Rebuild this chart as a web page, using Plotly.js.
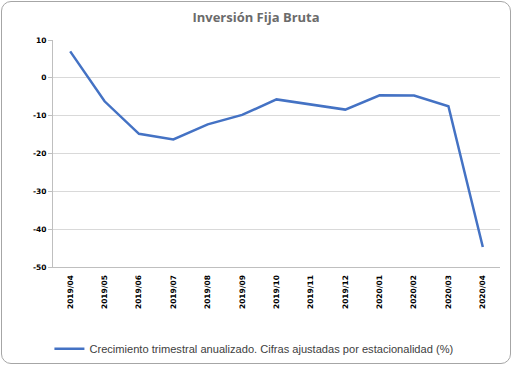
<!DOCTYPE html>
<html>
<head>
<meta charset="utf-8">
<script src="https://cdn.plot.ly/plotly-3.0.1.min.js"></script>
<style>
  html, body { margin: 0; padding: 0; background: #fff; }
  #wrap { position: relative; width: 512px; height: 365px; }
  #chart { width: 512px; height: 365px; }
  #frame { position: absolute; left: 1px; top: 1px; width: 508px; height: 361px;
           border: 1px solid #a6a6a6; border-radius: 10px; pointer-events: none; }
</style>
</head>
<body>
<div id="wrap"><div id="chart"></div><div id="frame"></div></div>
<script>
const categories = ["2019/04","2019/05","2019/06","2019/07","2019/08","2019/09","2019/10",
                    "2019/11","2019/12","2020/01","2020/02","2020/03","2020/04"];
const growth = [7.0, -6.2, -14.8, -16.3, -12.3, -9.8, -5.7, -7.1, -8.4, -4.6, -4.7, -7.5, -44.7];
const seriesName = "Crecimiento trimestral anualizado. Cifras ajustadas por estacionalidad (%)";
const yTicks = [10, 0, -10, -20, -30, -40, -50];

const trace = {
  x: categories, y: growth, type: "scatter", mode: "lines", name: seriesName,
  line: { color: "#4472C4", width: 2.5 }
};

const layout = {
  width: 512, height: 365,
  margin: { l: 53, r: 12, t: 40, b: 98, autoexpand: false },
  paper_bgcolor: "#ffffff", plot_bgcolor: "#ffffff",
  title: { text: "Inversión Fija Bruta", x: 0.5, xanchor: "center", y: 0.952, yanchor: "middle",
           font: { family: "Open Sans", size: 13, color: "#6b6b6b", weight: "bold" } },
  showlegend: true,
  legend: { orientation: "h", x: -0.008, xanchor: "left", y: -0.36, yanchor: "middle",
            font: { family: "Liberation Sans", size: 11.1, color: "#404040" } },
  xaxis: {
    type: "category", range: [-0.5, 12.5], tickangle: -90, automargin: false,
    showgrid: false, showline: true, linecolor: "#bfbfbf", linewidth: 1,
    ticks: "", ticklabelstandoff: 4,
    tickfont: { family: "DejaVu Sans", size: 7.5, color: "#000000", weight: "bold" }
  },
  yaxis: {
    range: [-50, 10], tickvals: yTicks, ticktext: yTicks.map(String), automargin: false,
    showgrid: true, gridcolor: "#d9d9d9", gridwidth: 1, zeroline: false,
    showline: true, linecolor: "#bfbfbf", linewidth: 1,
    ticks: "outside", ticklen: 4, tickcolor: "#bfbfbf",
    tickfont: { family: "DejaVu Sans", size: 7.5, color: "#000000", weight: "bold" }
  }
};

Plotly.newPlot("chart", [trace], layout, { displayModeBar: false, staticPlot: true });
</script>
</body>
</html>
